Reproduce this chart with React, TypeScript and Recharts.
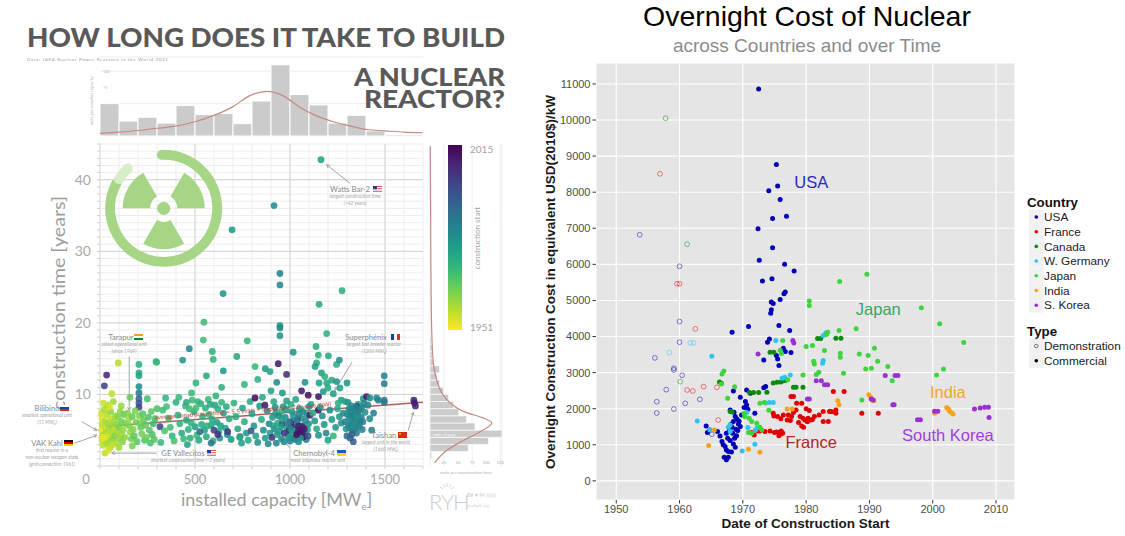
import React from 'react';
import { BarChart, Bar, ScatterChart, Scatter, XAxis, YAxis, CartesianGrid, ReferenceLine } from 'recharts';

// ---------------- LEFT: construction time infographic ----------------
const capacityBinStarts = [0, 100, 200, 300, 400, 500, 600, 700, 800, 900, 1000, 1100, 1200, 1300, 1400, 1500, 1600];
const unitsPerCapacity = [50, 23, 29, 20, 47, 33, 35, 19, 54, 110, 64, 48, 20, 32, 8, 2, 2];
const capacityDensity: [number, number][] = [
  [0, 4], [100, 6], [200, 8.5], [300, 12], [403, 15.6], [500, 22], [593, 31], [698, 45], [786, 62], [877, 69],
  [965, 62], [1053, 44], [1140, 31], [1228, 22], [1316, 15.6], [1404, 10], [1500, 8], [1600, 6], [1700, 5],
];

const timeBinStarts = [0, 1, 2, 3, 4, 5, 6, 7, 8, 9, 10, 11, 12, 13, 14, 15, 16, 17, 18, 19, 20, 21, 22, 23, 24, 25, 26, 27, 28, 29, 30, 31, 32, 33, 34, 35, 36, 37, 38, 39, 40, 41, 42, 43, 44];
const unitsPerTime = [0, 3, 68, 104, 128, 80, 65, 51, 42, 33, 24, 17, 12, 17, 6, 4, 4, 2, 1, 1, 1, 0, 1, 0, 1, 1, 0, 0, 0, 0, 0, 0, 1, 0, 0, 0, 1, 0, 0, 0, 0, 0, 1, 0, 0];
const timeDensity: [number, number][] = [
  [0.4, 8], [2.2, 30], [3.6, 60], [4.8, 89], [6.0, 110], [6.7, 95], [7.6, 60], [8.8, 36], [10.2, 21],
  [12.0, 12], [14.4, 6], [19.0, 3], [28.4, 1.5], [44.7, 0.5],
];

// [installed capacity MWe, construction time years, construction start year]
const reactors: [number, number, number][] = [
  [8,7.4,1956],[10,6.6,1955],[12,5.8,1957],[9,5.0,1954],[14,4.3,1958],[11,3.6,1956],[16,2.9,1957],[26,1.8,1957],
  [22,7.9,1959],[25,6.2,1958],[28,5.3,1956],[30,4.6,1959],[33,3.9,1957],[36,3.1,1960],[38,7.1,1958],[42,6.0,1961],
  [45,5.0,1959],[47,4.2,1956],[50,3.4,1960],[54,2.6,1958],[56,7.6,1962],[58,6.6,1957],[62,5.6,1961],[64,4.6,1959],
  [68,3.8,1962],[72,6.2,1960],[75,5.2,1958],[78,4.2,1963],[82,7.0,1961],[85,3.2,1959],[88,5.8,1962],[92,4.8,1960],
  [95,6.8,1963],[98,3.9,1961],[102,5.4,1964],[106,7.6,1962],[110,4.4,1960],[114,6.2,1965],[118,3.4,1963],[122,5.0,1961],
  [126,7.2,1966],[130,4.0,1962],[134,5.9,1964],[62,10.1,1957],[40,8.5,1959],[96,14.4,1958],[35,12.7,2008],[23,11.2,2002],
  [70,9.0,1960],[50,8.2,1955],[112,8.4,1961],[18,8.8,1956],[20,4.0,1953],[44,2.2,1955],[66,3.0,1957],[100,2.6,1960],
  [205,14.2,1974],[205,13.0,1976],[205,12.6,1977],[205,11.1,1983],[205,10.2,1988],[205,9.4,1994],[205,8.8,1997],[205,8.2,2002],[207,7.0,1963],[210,6.0,1961],
  [145,7.4,1963],[150,6.5,1961],[155,5.6,1964],[160,4.7,1962],[165,3.8,1965],[170,6.9,1966],[175,5.1,1963],[180,4.2,1967],[185,7.7,1964],[190,6.1,1965],
  [195,3.4,1968],[215,5.4,1967],[220,4.5,1965],[225,7.3,1968],[230,6.4,1966],[235,3.6,1969],[240,5.7,1967],[245,4.0,1965],[249,9.4,1970],[255,6.8,1969],
  [260,5.0,1968],[265,3.2,1970],[270,7.6,1967],[275,4.4,1969],[280,5.9,1971],[285,3.7,1968],[298,14.5,1972],[290,6.6,1970],[300,8.0,1969],[158,9.6,1966],[170,2.8,1964],
  [295,14.6,1973],[435,14.8,1981],[482,10.2,1972],[591,16.0,1975],[596,14.9,1973],[544,17.6,1971],[649,13.3,1980],[547,20.1,1971],[560,12.6,1976],[470,16.4,1984],[505,11.6,1973],[640,11.0,1974],
  [350,8.3,1970],[360,6.7,1972],[370,5.4,1971],[380,4.2,1973],[390,3.5,1970],[400,8.9,1974],[410,7.1,1975],[420,5.9,1973],[430,4.6,1976],[440,3.8,1972],
  [450,8.4,1973],[455,6.4,1977],[465,5.1,1974],[475,3.9,1975],[485,9.2,1971],[495,7.6,1976],[500,5.5,1978],[510,4.3,1972],[520,3.6,1977],[530,8.7,1974],
  [540,6.9,1975],[550,5.0,1979],[560,4.1,1976],[570,9.3,1972],[575,7.2,1973],[585,5.7,1978],[595,3.5,1975],[605,8.5,1976],[615,6.1,1980],[625,4.8,1977],
  [630,3.9,1982],[640,8.9,1973],[650,7.4,1979],[660,5.3,1978],[670,4.4,1983],[680,6.6,1975],[690,3.7,1980],[316,5.5,2001],[672,4.8,2004],[737,4.1,1999],
  [330,7.8,1971],[340,4.9,1969],[320,3.3,1972],[345,9.5,1973],[600,5.0,2002],[620,4.4,2006],[525,4.8,1992],[585,3.2,1989],[415,9.6,1972],[460,3.0,1978],[505,8.1,1970],[610,9.8,1974],
  [455,8.9,1975],[470,8.0,1971],[480,6.0,1974],[515,9.0,1973],[535,5.8,1976],[555,8.1,1975],[565,5.6,1974],[580,8.6,1977],[590,6.5,1976],[620,8.0,1975],[635,5.6,1979],[665,8.3,1976],
  [775,17.5,1973],[816,13.9,1972],[648,24.1,1982],[695,33.0,1980],[720,15.3,1976],[870,13.6,1980],[830,12.1,1975],[760,11.4,1973],[900,10.5,1978],
  [705,8.8,1974],[715,6.9,1976],[725,5.2,1977],[735,4.0,1975],[745,3.2,1979],[750,8.1,1978],[760,6.2,1975],[770,4.6,1980],[780,3.6,1977],[790,9.0,1976],
  [800,7.3,1979],[810,5.6,1981],[816,9.5,2013],[820,4.2,1978],[830,3.3,1982],[840,8.4,1980],[850,6.5,1977],[860,5.0,1983],[870,3.9,1979],[880,7.7,1981],
  [890,5.9,1984],[895,4.6,1980],[885,3.1,1985],[855,9.6,1976],[795,4.9,1998],
  [947,19.6,1983],[947,19.3,1984],[947,18.2,1982],[947,26.9,1986],[947,25.3,1985],[916,36.4,1983],[1079,11.7,1982],[930,11.7,1984],[895,13.2,1979],[938,14.3,2010],[982,12.8,2007],[1017,15.9,1982],[1061,10.5,2010],[1096,9.9,2012],
  [1005,8.6,1975],[915,9.0,1977],[925,7.4,1980],[935,6.0,1976],[945,4.8,1979],[955,3.8,1982],[965,8.3,1981],[975,6.8,1984],[985,5.3,1978],[990,4.3,1983],
  [1000,3.5,1986],[1010,7.6,1979],[1020,6.3,1985],[1025,5.0,1981],[1035,4.1,1987],[1045,3.4,1984],[1050,8.0,1982],[1058,6.7,1980],[1065,5.6,1986],[1075,4.6,1983],
  [1085,3.7,1988],[1090,7.1,1984],[1098,5.9,1982],[1009,5.7,2008],[996,5.0,2009],[1052,5.2,2010],[1060,4.6,2011],[1070,4.1,2012],[1065,5.5,2009],[1042,4.9,2007],
  [1030,5.8,2010],[1080,4.8,2008],[1105,7.1,2009],[960,5.9,2002],[970,4.6,2005],[1000,6.2,1997],[1040,6.5,1995],[918,5.2,1984],[928,3.2,1986],[950,7.5,1973],
  [1095,4.2,1999],[905,4.0,2006],[1015,3.9,1991],[1150,9.7,2011],[1149,7.8,2012],[868,8.5,2011],[982,9.1,1978],[1030,9.3,1977],[960,10.2,1980],
  [908,6.8,1981],[912,5.6,1978],[922,8.2,1983],[932,4.4,1980],[940,7.0,1985],[952,5.5,1981],[958,6.6,1979],[968,3.4,1984],[978,7.9,1982],[988,6.0,1987],
  [993,3.9,1981],[1003,5.2,1984],[1012,4.6,1980],[1018,7.0,1983],[1028,3.7,1985],[1038,5.9,1982],[1048,7.2,1986],[1055,3.9,1981],[1068,7.6,1984],[1082,6.3,1985],
  [1092,5.1,1979],[1100,8.3,1983],[1045,5.6,2009],[1055,4.9,2011],[1075,5.2,2010],[1035,4.4,2012],
  [1163,42.8,1979],[1274,24.5,1974],[1153,22.6,1976],[1193,18.5,1974],[1245,14.2,1975],[1137,16.7,1976],[1149,15.5,1974],[1140,14.4,1975],[1132,13.9,1978],[1202,15.4,1977],
  [1166,13.0,1978],[1183,12.5,1975],[1153,11.6,1979],[1193,11.6,1977],[1175,10.4,1981],[1219,12.0,1976],[1245,11.8,1982],[1263,10.9,1978],[1228,10.1,1979],[1270,9.2,1980],
  [1254,8.8,1975],[1290,9.0,1977],[1300,11.6,1981],[1200,10.9,1976],[1260,14.8,1983],
  [1110,8.6,1978],[1120,7.4,1976],[1130,6.3,1980],[1140,5.2,1977],[1150,4.3,1982],[1160,8.2,1979],[1170,7.0,1983],[1180,5.8,1981],[1190,4.6,1985],[1200,3.6,1979],
  [1210,7.8,1984],[1220,6.5,1980],[1228,4.2,1973],[1240,5.4,1982],[1250,8.0,1977],[1260,6.9,1981],[1270,6.0,1983],[1280,7.4,1985],[1290,6.2,1986],[1295,5.2,1982],
  [1305,8.9,1983],[1310,7.9,1984],[1312,6.9,1985],[1315,6.0,1982],[1318,5.3,1986],[1320,7.4,1987],[1322,8.4,1984],[1325,6.5,1983],[1328,5.7,1985],[1330,4.9,1986],
  [1332,7.0,1988],[1335,8.0,1982],[1338,6.2,1984],[1340,5.2,1987],[1342,7.6,1985],[1345,6.7,1986],[1348,5.9,1983],[1350,4.6,1988],[1355,7.2,1984],[1358,8.6,1981],
  [1362,6.4,1985],[1365,5.5,1990],[1370,7.9,1983],[1375,6.8,1987],[1380,5.1,1986],[1385,9.4,1980],[1351,8.3,2013],[1316,3.9,1994],[1333,3.4,1996],[1395,7.5,1982],
  [1302,7.2,1984],[1308,5.6,1985],[1314,8.0,1983],[1326,7.7,1986],[1336,5.5,1984],[1344,8.3,1985],[1352,6.9,1982],[1360,7.6,1987],[1368,6.1,1986],[1378,8.2,1984],
  [1383,6.2,1988],[1390,8.8,1985],[1300,4.2,1993],[1325,4.4,1996],
  [1403,9.7,2011],[1420,6.6,1984],[1420,9.5,1983],[1456,9.5,1986],[1465,9.2,1987],[1430,5.0,1988],[1410,8.5,1986],[1440,7.4,1987],
  [1496,12.6,1986],[1496,11.5,1987],[1496,9.2,1988],[1496,8.9,1989],[1652,9.2,2009],[1655,8.8,2010],[1660,8.4,2009],
];

const regressionLine = { intercept: 5.5, slopePerMW: 0.002 };

// annotation arrows: [capacity from, years from, capacity to, years to]
const annotationArrows: [number, number, number, number][] = [
  [1316, 39.5, 1193, 42.1],
  [154, 15.3, 154, 7.8],
  [1326, 14.5, 1237, 10.6],
  [-96, 6.2, -17, 5.0],
  [-132, 3.2, -17, 4.3],
  [298, 1.8, 62, 1.8],
  [1000, 2.5, 947, 4.2],
  [1623, 5.0, 1649, 7.5],
];

// ---------------- RIGHT: overnight cost ----------------
const countries = ['USA', 'France', 'Canada', 'W. Germany', 'Japan', 'India', 'S. Korea'];

const usaCommercial: [number, number][] = [
  [1972.5,10860],[1975.3,8770],[1975.5,8170],[1974.1,8040],[1975.9,7800],[1974.7,7270],[1976.9,7330],[1972.4,6990],
  [1974.7,6463],[1972.6,6112],[1976.6,6000],[1978.1,5815],[1973.1,5537],[1974.6,5602],[1976.5,5186],[1976.7,5232],[1975.9,5028],
  [1974.5,4954],[1974.8,4917],[1974.5,4741],[1974.4,4648],[1968.3,4120],[1970.9,4278],[1975.7,4306],[1977.4,4167],[1974.2,3935],
  [1973.9,3843],[1976.4,3676],[1976.7,3584],[1977.6,3556],[1973.3,3352],[1975.3,3472],[1975.5,3380],[1975.7,3195],
  [1968.5,2493],[1970.6,2521],[1971.2,2429],[1969.6,2318],[1970.4,2198],[1970.6,2106],[1970.8,1985],[1971.9,1875],[1973.6,2613],
  [1973.3,2581],[1968,1967],[1968.8,1782],[1969.1,1708],[1968.5,1644],[1969.3,1579],[1968.3,1487],[1968.9,1431],[1968.4,1320],
  [1964.2,1524],[1964.8,1413],[1964.4,1339],[1966,1367],[1966.4,1247],[1967.4,1320],[1967.6,1182],[1968,1117],[1968.5,1025],
  [1968.8,933],[1966.7,1090],[1967.2,951],[1967.4,859],[1967.7,813],[1967.05,656],[1967.4,582],[1967.7,656],[1969.6,1505],
  [1969.2,1394],[1969.8,1828],[1968.6,1900],[1969.4,1650],[1968.1,1560],[1970.2,2030],[1969.0,1250],[1967.9,1400],[1968.7,1180],
  [1966.9,1000],[1968.2,800],
];
const usaDemonstration: [number, number][] = [
  [1953.7,6820],[1960,5945],[1960,4417],[1960,3843],[1956.1,3408],[1959.1,3121],[1959.1,3074],[1960.4,2926],[1957.9,2528],
  [1963.2,2259],[1956.4,2195],[1960.9,2148],[1959.1,1991],[1956.4,1880],[1965.1,1293],
];
const franceCommercial: [number, number][] = [
  [1977.6,2336],[1978,2336],[1978.5,2152],[1979.3,2152],[1974.8,1875],[1974.9,1801],[1975.5,1782],[1976.4,1828],[1977.2,1828],
  [1977.7,1782],[1978,1893],[1978.4,1967],[1979.05,1782],[1979.5,1736],[1979.8,1690],[1980.3,1736],[1980.7,1690],[1981.3,1782],
  [1982.05,1828],[1982.7,1921],[1983.7,1921],[1984.7,1967],[1977,1690],[1977.5,1671],[1979.3,1524],[1979.6,1487],[1982.7,1644],
  [1983.5,1644],[1984.3,2475],[1986,2475],[1972.4,1385],[1972.7,1385],[1973.5,1367],[1974.3,1385],[1975,1339],[1975.3,1357],
  [1975.8,1348],[1976.05,1385],[1975.7,1250],[1976.05,1296],[1976.3,1324],[1971.4,1339],[1971.8,1274],[1983.8,1926],[1984.05,1917],
  [1984.7,1871],[1988.8,1871],[1991.4,1871],[1980,2000],[1980.5,1950],[1981,1700],[1976.0,1720],[1978.8,1620],[1980.2,1640],
];
const franceDemonstration: [number, number][] = [
  [1956.9,8510],[1959.6,5463],[1960,5463],[1962.5,4213],[1961.2,2519],[1962.1,2491],[1963.8,2611],[1965.9,2593],[1966.1,1685],
];
const canadaCommercial: [number, number][] = [
  [1966.3,2743],[1966.6,2706],[1971.05,2447],[1971.7,2447],[1972.5,2447],[1973.8,2456],[1974.8,2715],[1975.4,2733],[1976,2743],
  [1976.3,2770],[1976.7,2780],[1978,2595],[1978.4,2595],[1979.5,2595],[1968,1920],[1968.3,1911],[1974.3,3565],[1974.9,3565],
  [1981.8,3945],[1982.3,3945],[1984.7,3950],[1985.5,3950],
];
const canadaDemonstration: [number, number][] = [[1957.8,10050],[1961.2,6556],[1960.1,2750]];
const germanyCommercial: [number, number][] = [
  [1965.1,3454],[1975.2,3889],[1976.2,2843],[1976.6,2871],[1977.5,2935],[1982.7,4028],[1983.1,4100],[1982.7,3333],[1982.6,3260],
  [1962.8,1662],[1970.6,1893],[1968,1551],[1967.7,1487],[1968,1367],[1972.2,1459],[1972,1413],[1969.9,831],[1971.9,1016],
  [1974.2,2170],[1974.8,2170],[1973.6,2160],[1964.8,1410],[1970.8,1480],
];
const germanyDemonstration: [number, number][] = [[1958.4,3555],[1961.7,3824],[1962.2,3824]];
const japanCommercial: [number, number][] = [
  [1985.3,5528],[1989.6,5723],[1998.2,4797],[2001.1,4352],[2004.9,3834],[1980.5,4982],[1980.5,4862],[1987.9,4213],[1985.2,4167],
  [1983.4,4121],[1983.2,4056],[1981,3750],[1980,3722],[1982.9,3611],[1985.4,3537],[1985.4,3426],[1988.4,3519],[1989.8,3472],
  [1990.8,3676],[1991.3,3315],[1992.9,3167],[1993.6,2778],[1989.4,3102],[1990.3,3120],[1981.2,3315],[1981.3,3241],[1982,3010],
  [1981.6,2945],[1979.5,2935],[1985.9,2982],[2000.6,2935],[2001.7,3102],[1988.8,2241],[1976.3,3889],[1966.7,2964],[1967,3047],
  [1966.6,2685],[1967.6,2290],[1968.7,2610],[1972.7,2151],[1973.4,2170],[1974.1,1960],[1971,1736],[1971.4,1644],[1972.2,1598],
  [1972.7,1487],[1973,1413],[1970.9,1339],[1971.4,1320],[1970.2,1870],[1970.3,1780],[1976.1,3530],[1977.1,2800],[1975.9,3620],
];
const indiaCommercial: [number, number][] = [
  [1989.9,2389],[1990.2,2315],[1990.4,2241],[1990.7,2222],[2002.5,1991],[2002.6,1945],[2002.9,1898],[2003.2,1852],[2000.3,1871],
  [1985.2,2111],[1985,2222],[1977,1991],[1977.8,1991],[1964.6,979],[1970.9,877],[1972.7,794],[1965.5,1413],[2002.2,2030],
];
const koreaCommercial: [number, number][] = [
  [1977.9,3889],[1978.05,3824],[1972.4,3519],[1981.6,2778],[1982.4,2778],[1982.9,2667],[1983.4,2667],[1980.2,2269],[1980.5,2269],
  [1990.3,2269],[1990.6,2241],[1992.5,2917],[1994.05,2917],[1994.5,2917],[1993.7,2111],[1993.9,2111],[1997.6,1695],[1998.05,1695],
  [2000.3,1926],[2000.8,1926],[2006.6,1991],[2007.5,2019],[2008.2,2037],[2008.8,2037],[2008.9,1759],
];
const regionLabels: { name: string; year: number; cost: number }[] = [
  { name: 'USA', year: 1980.8, cost: 8290 },
  { name: 'Japan', year: 1991.4, cost: 4756 },
  { name: 'India', year: 2002.4, cost: 2474 },
  { name: 'South Korea', year: 2002.4, cost: 1274 },
  { name: 'France', year: 1980.8, cost: 1072 },
];
const yearTicks = [1950, 1960, 1970, 1980, 1990, 2000, 2010];
const costTicks = [0, 1000, 2000, 3000, 4000, 5000, 6000, 7000, 8000, 9000, 10000, 11000];

// ---------------- styling helpers ----------------
const countryColor: Record<string, string> = {
  USA: '#0000B4', France: '#E00000', Canada: '#0B8A0B', 'W. Germany': '#2EC4F0', Japan: '#3ED43E', India: '#F5A31E', 'S. Korea': '#9A30D0',
};
const labelColor: Record<string, string> = {
  USA: '#2B2BB0', Japan: '#36A860', India: '#F2A62A', 'South Korea': '#A43BE0', France: '#B32424',
};
const VIRIDIS = ['#440154', '#482878', '#3e4989', '#31688e', '#26828e', '#1f9e89', '#35b779', '#6ece58', '#b5de2b', '#fde725'];
const hexRgb = (h: string) => { const n = parseInt(h.slice(1), 16); return [(n >> 16) & 255, (n >> 8) & 255, n & 255]; };
const viridis = (t: number) => {
  const tt = Math.max(0, Math.min(1, t));
  const p = tt * 9; const i = Math.min(8, Math.floor(p)); const f = p - i;
  const a = hexRgb(VIRIDIS[i]); const b = hexRgb(VIRIDIS[i + 1]);
  const c = a.map((v, k) => Math.round(v + (b[k] - v) * f));
  return `rgb(${c[0]},${c[1]},${c[2]})`;
};
const startColor = (y: number) => viridis(1 - (y - 1951) / 64);

const capHist = capacityBinStarts.map((b, i) => ({ bin: String(b), units: unitsPerCapacity[i] }));
const capCurve = capacityDensity.map(([cap, units]) => ({ cap, units }));
const timeHist = timeBinStarts.map((b, i) => ({ bin: String(b), units: unitsPerTime[i] }));
const timeCurve = timeDensity.map(([yrs, units]) => ({ yrs, units }));
const reactorData = reactors.map(([cap, yrs, start]) => ({ cap, yrs, start }));
const toPts = (arr: [number, number][]) => arr.map(([year, cost]) => ({ year, cost }));

const capTicks = Array.from({ length: 18 }, (_, i) => i * 100);
const yrTicks = Array.from({ length: 46 }, (_, i) => i);

const LFONT = 'Lato, "Open Sans", sans-serif';
const RFONT = '"Liberation Sans", Arial, Helvetica, sans-serif';

const ArrowShape = (p: any) => {
  const { x1, y1, x2, y2 } = p;
  const a = Math.atan2(y2 - y1, x2 - x1);
  const L = 3.5;
  const d = `M${x2 - L * Math.cos(a - 0.5)},${y2 - L * Math.sin(a - 0.5)} L${x2},${y2} L${x2 - L * Math.cos(a + 0.5)},${y2 - L * Math.sin(a + 0.5)}`;
  return (
    <g>
      <line x1={x1} y1={y1} x2={x2} y2={y2} stroke="#9a9a9a" strokeWidth={0.9} />
      <path d={d} stroke="#9a9a9a" strokeWidth={0.9} fill="none" />
    </g>
  );
};

const CapTick = (p: any) => {
  const v = p.payload.value;
  if (v % 500 !== 0) return <g />;
  return (
    <text x={p.x - (v === 0 ? 14 : 0)} y={p.y + 13} textAnchor="middle" fontSize={13} fill="#a9a9a9" fontFamily={LFONT}>{v}</text>
  );
};

const Flag = ({ x, y, kind }: { x: number; y: number; kind: string }) => {
  const w = 9, h = 6;
  if (kind === 'us') {
    return (
      <g>
        <rect x={x} y={y} width={w} height={h} fill="#fff" />
        {[0, 2, 4].map((k) => <rect key={k} x={x} y={y + k * 1.2} width={w} height={0.8} fill="#c8202e" />)}
        <rect x={x} y={y} width={4} height={3.2} fill="#2b3a8c" />
      </g>
    );
  }
  const stripes: Record<string, string[]> = {
    in: ['#ff9933', '#ffffff', '#138808'], ru: ['#ffffff', '#1c3fa8', '#d52b1e'], de: ['#111111', '#dd0000', '#ffce00'], ua: ['#1f5bc0', '#ffd500'],
  };
  if (kind === 'fr') {
    return (
      <g>
        <rect x={x} y={y} width={3} height={h} fill="#1f3fa0" />
        <rect x={x + 3} y={y} width={3} height={h} fill="#fff" />
        <rect x={x + 6} y={y} width={3} height={h} fill="#e0302e" />
      </g>
    );
  }
  if (kind === 'cn') {
    return (
      <g>
        <rect x={x} y={y} width={w} height={h} fill="#de2910" />
        <circle cx={x + 2} cy={y + 1.8} r={0.9} fill="#ffde00" />
      </g>
    );
  }
  const s = stripes[kind];
  return (
    <g>
      {s.map((c, i) => <rect key={i} x={x} y={y + (i * h) / s.length} width={w} height={h / s.length + 0.05} fill={c} />)}
    </g>
  );
};

const polar = (cx: number, cy: number, r: number, a: number) => {
  const t = (a * Math.PI) / 180;
  return `${(cx + r * Math.cos(t)).toFixed(2)},${(cy + r * Math.sin(t)).toFixed(2)}`;
};
const sectorPath = (cx: number, cy: number, r0: number, r1: number, a0: number, a1: number) =>
  `M${polar(cx, cy, r0, a0)} L${polar(cx, cy, r1, a0)} A${r1},${r1} 0 0 1 ${polar(cx, cy, r1, a1)} L${polar(cx, cy, r0, a1)} A${r0},${r0} 0 0 0 ${polar(cx, cy, r0, a0)} Z`;
const arcPath = (cx: number, cy: number, r: number, a0: number, a1: number) =>
  `M${polar(cx, cy, r, a0)} A${r},${r} 0 ${a1 - a0 > 180 ? 1 : 0} 1 ${polar(cx, cy, r, a1)}`;

const Note = ({ x, y, name, flag, flagX, lines, sub }: any) => (
  <g fontFamily={LFONT}>
    <text x={x} y={y} textAnchor="middle" fontSize={7.6} fill="#8a8a8a">{name}</text>
    <Flag x={flagX} y={y - 6} kind={flag} />
    {lines.map((l: string, i: number) => (
      <text key={i} x={sub} y={y + 6.3 + i * 6.6} textAnchor="middle" fontSize={4.9} fontStyle="italic" fill="#a6a6a6">{l}</text>
    ))}
  </g>
);

const ReactorDot = (p: any) => (
  <circle cx={p.cx} cy={p.cy} r={3.4} fill={startColor(p.payload.start)} fillOpacity={0.88} />
);

const makeDot = (color: string, demo: boolean) => (p: any) =>
  demo ? (
    <circle cx={p.cx} cy={p.cy} r={2.4} fill="none" stroke={color} strokeOpacity={0.55} strokeWidth={0.9} />
  ) : (
    <circle cx={p.cx} cy={p.cy} r={2.5} fill={color} />
  );

const LabelText = (p: any) => (
  <text x={p.cx} y={p.cy} textAnchor="middle" dominantBaseline="central" fontSize={16.5} fontFamily={RFONT} fill={labelColor[p.payload.name]}>
    {p.payload.name}
  </text>
);

const rightSeries = [
  { key: 'usa-d', data: usaDemonstration, c: 'USA', demo: true },
  { key: 'fr-d', data: franceDemonstration, c: 'France', demo: true },
  { key: 'ca-d', data: canadaDemonstration, c: 'Canada', demo: true },
  { key: 'de-d', data: germanyDemonstration, c: 'W. Germany', demo: true },
  { key: 'usa', data: usaCommercial, c: 'USA', demo: false },
  { key: 'fr', data: franceCommercial, c: 'France', demo: false },
  { key: 'ca', data: canadaCommercial, c: 'Canada', demo: false },
  { key: 'de', data: germanyCommercial, c: 'W. Germany', demo: false },
  { key: 'jp', data: japanCommercial, c: 'Japan', demo: false },
  { key: 'in', data: indiaCommercial, c: 'India', demo: false },
  { key: 'kr', data: koreaCommercial, c: 'S. Korea', demo: false },
];

const ICX = 163.7, ICY = 208.3;
const ICON_GREEN = '#a6d685';

export default function App() {
  return (
    <div style={{ position: 'absolute', left: 0, top: 0, width: 1125, height: 536, background: '#fff', overflow: 'hidden' }}>
      {/* top histogram */}
      <div style={{ position: 'absolute', left: 0, top: 0 }}>
        <BarChart width={430} height={140} data={capHist} margin={{ top: 57, right: 7, bottom: 4, left: 100 }} barCategoryGap={0}>
          <CartesianGrid vertical={false} stroke="#ededed" />
          <XAxis dataKey="bin" hide />
          <YAxis hide domain={[0, 122]} ticks={[0, 25, 50, 75, 100]} />
          <Bar dataKey="units" fill="#cbcbcb" stroke="#ffffff" strokeWidth={1} isAnimationActive={false} />
        </BarChart>
      </div>
      <div style={{ position: 'absolute', left: 0, top: 0 }}>
        <ScatterChart width={430} height={140} margin={{ top: 57, right: 7, bottom: 4, left: 100 }}>
          <XAxis type="number" dataKey="cap" domain={[0, 1700]} hide />
          <YAxis type="number" dataKey="units" domain={[0, 122]} hide />
          <Scatter data={capCurve} line={{ stroke: '#c48a84', strokeWidth: 1.2 }} lineJointType="monotoneX" shape={() => <g />} isAnimationActive={false} />
        </ScatterChart>
      </div>

      {/* main scatter */}
      <div style={{ position: 'absolute', left: 0, top: 0 }}>
        <ScatterChart width={430} height={520} margin={{ top: 144, right: 7, bottom: 24, left: 60 }}>
          <CartesianGrid stroke="#ededed" />
          <XAxis type="number" dataKey="cap" domain={[0, 1700]} ticks={capTicks} interval={0} tick={CapTick}
            tickSize={3} tickLine={{ stroke: '#cfcfcf' }} axisLine={{ stroke: '#dcdcdc' }} height={30} />
          <YAxis type="number" dataKey="yrs" domain={[0, 45]} ticks={yrTicks} interval={0} width={40}
            tickFormatter={(v: number) => (v % 10 === 0 && v > 0 ? String(v) : '')}
            tick={{ fontSize: 14, fill: '#a9a9a9', fontFamily: LFONT }} tickSize={3} tickMargin={6}
            tickLine={{ stroke: '#cfcfcf' }} axisLine={{ stroke: '#dcdcdc' }} />
          {[500, 1000, 1500].map((v) => <ReferenceLine key={'x' + v} x={v} stroke="#d4d4d4" />)}
          {[10, 20, 30, 40].map((v) => <ReferenceLine key={'y' + v} y={v} stroke="#d4d4d4" />)}
          <Scatter data={reactorData} shape={ReactorDot} isAnimationActive={false} />
          <ReferenceLine
            segment={[{ x: 0, y: regressionLine.intercept }, { x: 1700, y: regressionLine.intercept + regressionLine.slopePerMW * 1700 }]}
            stroke="#b0605a" strokeWidth={1.5} ifOverflow="visible" />
          {annotationArrows.map(([a, b, c, d], i) => (
            <ReferenceLine key={'ar' + i} segment={[{ x: a, y: b }, { x: c, y: d }]} ifOverflow="visible" shape={ArrowShape} />
          ))}
        </ScatterChart>
      </div>

      {/* side histogram */}
      <div style={{ position: 'absolute', left: 420, top: 0 }}>
        <BarChart layout="vertical" width={100} height={520} data={timeHist} margin={{ top: 144, right: 18, bottom: 54, left: 10 }} barCategoryGap={0}>
          <CartesianGrid stroke="#efefef" horizontal={false} />
          <XAxis type="number" domain={[0, 128]} ticks={[25, 50, 75, 100, 125]} hide />
          <YAxis type="category" dataKey="bin" reversed hide />
          <Bar dataKey="units" fill="#cbcbcb" stroke="#ffffff" strokeWidth={0.6} isAnimationActive={false} />
        </BarChart>
      </div>
      <div style={{ position: 'absolute', left: 420, top: 0 }}>
        <ScatterChart width={100} height={520} margin={{ top: 144, right: 18, bottom: 54, left: 10 }}>
          <XAxis type="number" dataKey="units" domain={[0, 128]} hide />
          <YAxis type="number" dataKey="yrs" domain={[0, 45]} hide />
          <Scatter data={timeCurve} line={{ stroke: '#c48a84', strokeWidth: 1.2 }} lineJointType="monotoneY" shape={() => <g />} isAnimationActive={false} />
        </ScatterChart>
      </div>

      {/* right chart */}
      <div style={{ position: 'absolute', left: 530, top: 0 }}>
        <ScatterChart width={500} height={536} margin={{ top: 63, right: 15, bottom: 16, left: 20 }}>
          <CartesianGrid fill="#E5E5E5" stroke="#ffffff" strokeWidth={1.1} />
          <XAxis type="number" dataKey="year" domain={[1946.8, 2013]} allowDataOverflow ticks={yearTicks} interval={0}
            tick={{ fontSize: 11, fill: '#4d4d4d', fontFamily: RFONT }} tickSize={3.5} tickMargin={2}
            tickLine={{ stroke: '#333' }} axisLine={false} height={20} />
          <YAxis type="number" dataKey="cost" domain={[-530, 11580]} allowDataOverflow ticks={costTicks} interval={0} width={46}
            tick={{ fontSize: 11, fill: '#4d4d4d', fontFamily: RFONT }} tickSize={3.5} tickMargin={2}
            tickLine={{ stroke: '#333' }} axisLine={false} />
          {rightSeries.map((s) => (
            <Scatter key={s.key} data={toPts(s.data)} shape={makeDot(countryColor[s.c], s.demo)} isAnimationActive={false} />
          ))}
          <Scatter data={regionLabels} dataKey="cost" shape={LabelText} isAnimationActive={false} />
        </ScatterChart>
      </div>

      {/* decorations & text */}
      <svg width={1125} height={536} style={{ position: 'absolute', left: 0, top: 0, pointerEvents: 'none' }}>
        <defs>
          <linearGradient id="vir" x1="0" y1="0" x2="0" y2="1">
            {VIRIDIS.map((c, i) => <stop key={i} offset={i / 9} stopColor={c} />)}
          </linearGradient>
        </defs>
        {/* title */}
        <g fontFamily={LFONT} fontWeight={900} fill="#595959">
          <text x={27} y={46.5} fontSize={26} textLength={478} lengthAdjust="spacingAndGlyphs">HOW LONG DOES IT TAKE TO BUILD</text>
          <text x={354} y={86} fontSize={25} textLength={151} lengthAdjust="spacingAndGlyphs">A NUCLEAR</text>
          <text x={364} y={107.5} fontSize={25} textLength={141} lengthAdjust="spacingAndGlyphs">REACTOR?</text>
        </g>
        <text x={27} y={60.5} fontSize={4.6} fill="#a0a0a0" fontFamily={LFONT} textLength={141}>Data: IAEA Nuclear Power Reactors in the World 2021</text>
        <text transform="translate(93,101) rotate(-90)" textAnchor="middle" fontSize={4.4} fill="#b0b0b0" fontFamily={LFONT} fontStyle="italic">units per installed capacity</text>
        <text x={103} y={72.5} fontSize={3.8} fill="#b5b5b5" fontFamily={LFONT}>100</text>
        <text x={103} y={88.5} fontSize={3.8} fill="#b5b5b5" fontFamily={LFONT}>75</text>

        {/* radiation icon */}
        <path d={arcPath(ICX, ICY, 53.5, 268, 568)} stroke={ICON_GREEN} strokeWidth={10} fill="none" strokeLinecap="round" />
        <path d={arcPath(ICX, ICY, 53.5, 213, 228)} stroke="#d6edc7" strokeWidth={10} fill="none" strokeLinecap="round" />
        <path d={sectorPath(ICX, ICY, 13.5, 41, 180, 240)} fill={ICON_GREEN} />
        <path d={sectorPath(ICX, ICY, 13.5, 41, 300, 360)} fill={ICON_GREEN} />
        <path d={sectorPath(ICX, ICY, 13.5, 41, 60, 120)} fill={ICON_GREEN} />
        <circle cx={ICX} cy={ICY} r={6.6} fill={ICON_GREEN} />

        {/* axis titles left */}
        <text transform="translate(65,303) rotate(-90)" textAnchor="middle" fontSize={17.5} fill="#9d9d9d" fontFamily={LFONT}
          textLength={214} lengthAdjust="spacingAndGlyphs">construction time [years]</text>
        <text x={181} y={506} fontSize={18} fill="#9d9d9d" fontFamily={LFONT}>
          installed capacity [MW<tspan fontSize={10} dy={4}>e</tspan><tspan dy={-4}>]</tspan>
        </text>

        {/* regression label */}
        <text transform="translate(155,419.5) rotate(-4.3)" fontSize={5.8} fill="#c0392b" fontFamily={LFONT}
          textLength={177} lengthAdjust="spacingAndGlyphs">average construction time ≈ 5.5 years + (capacity × 2.0 years/GW)</text>

        {/* annotations */}
        <Note x={350} y={192} name="Watts Bar-2" flag="us" flagX={373} sub={355} lines={['longest construction time', '(>42 years)']} />
        <Note x={121} y={340} name="Tarapur" flag="in" flagX={134} sub={124} lines={['oldest operational unit', '(since 1969)']} />
        <Note x={366} y={340} name="Superphénix" flag="fr" flagX={391} sub={374} lines={['largest fast breeder reactor', '(1200 MWₑ)']} />
        <Note x={47} y={411} name="Bilibino" flag="ru" flagX={60} sub={47} lines={['smallest operational unit', '(11 MWₑ)']} />
        <Note x={47} y={446} name="VAK Kahl" flag="de" flagX={64} sub={52} lines={['first reactor in a', 'non-nuclear weapon state', '(grid connection 1961)']} />
        <Note x={183} y={456} name="GE Vallecitos" flag="us" flagX={207} sub={188} lines={['shortest construction time (<2 years)']} />
        <Note x={314} y={456} name="Chernobyl-4" flag="ua" flagX={337} sub={318} lines={['most infamous reactor unit']} />
        <Note x={384} y={438} name="Taishan" flag="cn" flagX={398} sub={386} lines={['largest unit in the world', '(1660 MWₑ)']} />

        {/* side histogram text */}
        <g fontFamily={LFONT} fill="#b0b0b0" fontSize={4.4}>
          {[25, 50, 75, 100, 125].map((v) => (
            <text key={v} x={430 + (v / 128) * 72} y={464} textAnchor="middle">{v}</text>
          ))}
          <text x={466} y={474} textAnchor="middle">units per construction time</text>
        </g>
        <text x={433} y={436} fontSize={3.3} fill="#ffffff" fontFamily={LFONT}>mode ≈ 4 years</text>

        {/* colour bar */}
        <rect x={448} y={145} width={14} height={185} fill="url(#vir)" />
        <g fontFamily={LFONT} fill="#a3a3a3">
          <text x={470} y={153} fontSize={10}>2015</text>
          <text x={470} y={331} fontSize={10}>1951</text>
          <text transform="translate(480,238) rotate(-90)" textAnchor="middle" fontSize={8}>construction start</text>
        </g>

        {/* logo */}
        <g fontFamily={LFONT} fill="#cdcdcd">
          <text x={429} y={510} fontSize={22} fontWeight={300} letterSpacing={-1}>RYH</text>
          {[-60, -30, 0, 30, 60].map((a) => (
            <line key={a} x1={447 + 4 * Math.sin((a * Math.PI) / 180)} y1={491 - 4 * Math.cos((a * Math.PI) / 180)}
              x2={447 + 8 * Math.sin((a * Math.PI) / 180)} y2={491 - 8 * Math.cos((a * Math.PI) / 180)} stroke="#cdcdcd" strokeWidth={0.8} />
          ))}
          <text x={467} y={497} fontSize={5.5}>Bē ♥ M ◎◎</text>
          <text x={467} y={507} fontSize={4.2}>@rafych ◎◎</text>
        </g>

        {/* right chart titles */}
        <g fontFamily={RFONT}>
          <text x={807} y={26} textAnchor="middle" fontSize={28.5} fill="#000">Overnight Cost of Nuclear</text>
          <text x={807} y={52} textAnchor="middle" fontSize={19} fill="#8c8c8c">across Countries and over Time</text>
          <text x={805.5} y={527.5} textAnchor="middle" fontSize={13.5} fontWeight="bold" fill="#1a1a1a">Date of Construction Start</text>
          <text transform="translate(555,282) rotate(-90)" textAnchor="middle" fontSize={13.5} fontWeight="bold" fill="#1a1a1a"
            textLength={374} lengthAdjust="spacingAndGlyphs">Overnight Construction Cost in equivalent USD(2010$)/kW</text>
        </g>

        {/* legend */}
        <g fontFamily={RFONT}>
          <text x={1027} y={206.5} fontSize={13.3} fontWeight="bold" fill="#111">Country</text>
          {countries.map((c, i) => {
            const cy = 217 + i * 14.7;
            return (
              <g key={c}>
                <rect x={1029} y={cy - 7.3} width={14.6} height={14.6} fill="#f1f1f1" />
                <circle cx={1036.3} cy={cy} r={1.8} fill={countryColor[c]} />
                <text x={1044} y={cy + 4.2} fontSize={11.8} fill="#1a1a1a">{c}</text>
              </g>
            );
          })}
          <text x={1027} y={335.5} fontSize={13.3} fontWeight="bold" fill="#111">Type</text>
          <rect x={1029} y={338.7} width={14.6} height={14.6} fill="#f1f1f1" />
          <circle cx={1036.3} cy={346} r={1.8} fill="none" stroke="#555" strokeWidth={0.8} />
          <text x={1044} y={350.2} fontSize={11.8} fill="#1a1a1a">Demonstration</text>
          <rect x={1029} y={353.4} width={14.6} height={14.6} fill="#f1f1f1" />
          <circle cx={1036.3} cy={360.7} r={1.8} fill="#000" />
          <text x={1044} y={364.9} fontSize={11.8} fill="#1a1a1a">Commercial</text>
        </g>
      </svg>
    </div>
  );
}
